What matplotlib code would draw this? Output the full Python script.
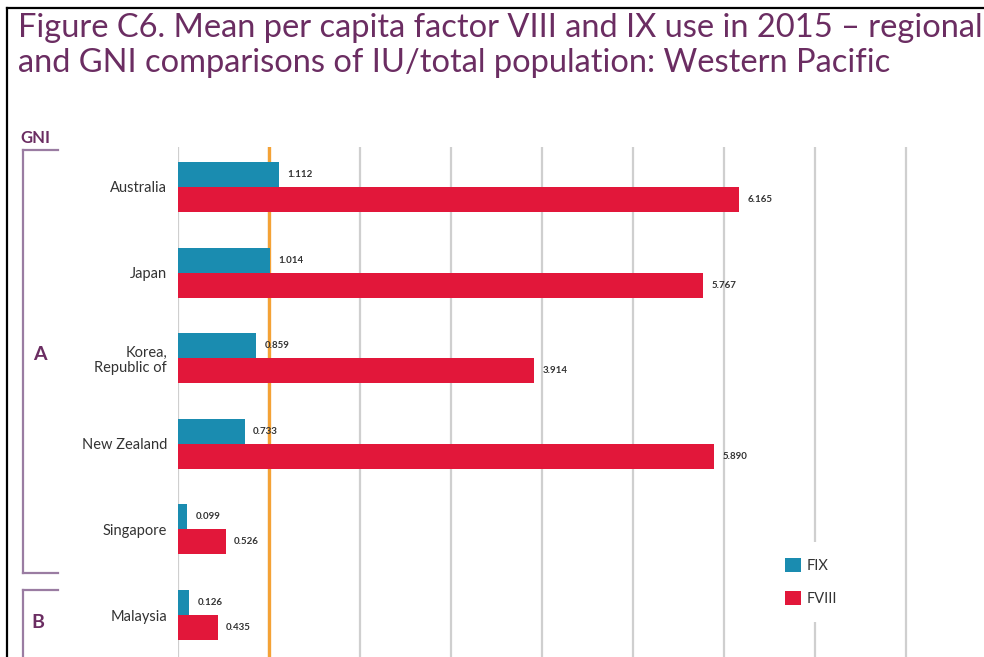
"""
Mean per capita factor VIII and IX use, Western Pacific, horizontal bars
"""
import matplotlib.pyplot as plt
from matplotlib.lines import Line2D
import numpy as np

# data
countries = ["Australia", "Japan", "Korea,\nRepublic of", "New Zealand",
             "Singapore", "Malaysia"]
fix = [1.112, 1.014, 0.859, 0.733, 0.099, 0.126]
fviii = [6.165, 5.767, 3.914, 5.890, 0.526, 0.435]
gni_groups = ["A", "A", "A", "A", "A", "B"]
reference_level = 1.0

# colours
c_fix = "#1a8cb0"
c_fviii = "#e2173a"
c_orange = "#f4a236"
c_grid = "#cfcfcf"
c_purple = "#6b2d62"
c_bracket = "#9a7ca2"
c_text = "#333333"

W, H = 984, 657
plt.rcParams["font.family"] = ["Lato", "DejaVu Sans"]
fig = plt.figure(figsize=(W / 100, H / 100), dpi=100)


def fx(px):
    return px / W


def fy(py):
    return 1 - py / H


# axes: x=0 at 178px, 91px per unit; first row at 187px, 85.6px per row
ax = fig.add_axes([fx(178), 0, 1 - fx(178), fy(147)])
ax.set_xlim(0, (W - 178) / 91)
ax.set_ylim(5.49, -0.467)

y = np.arange(len(countries))
h = 0.292
ax.barh(y - h / 2, fix, height=h, color=c_fix, label="FIX", zorder=3)
ax.barh(y + h / 2, fviii, height=h, color=c_fviii, label="FVIII", zorder=3)

for xi in range(0, 9):
    ax.axvline(xi, color=c_grid, lw=1.6, zorder=1)
ax.axvline(reference_level, color=c_orange, lw=2.4, zorder=2)

for yi, v in zip(y, fix):
    ax.annotate(f"{v:.3f}", (v, yi - h / 2), xytext=(6, 0),
                textcoords="offset points", va="center", ha="left",
                fontsize=7, fontweight="bold", color=c_text, zorder=5)
for yi, v in zip(y, fviii):
    ax.annotate(f"{v:.3f}", (v, yi + h / 2), xytext=(6, 0),
                textcoords="offset points", va="center", ha="left",
                fontsize=7, fontweight="bold", color=c_text, zorder=5)

ax.set_yticks(y)
ax.set_yticklabels(countries, fontsize=10.5, color=c_text, linespacing=1.1)
ax.set_xticks([])
ax.tick_params(axis="y", length=0, pad=8)
for s in ax.spines.values():
    s.set_visible(False)

leg = ax.legend(loc="center", bbox_to_anchor=(fx(811), fy(582)),
                bbox_transform=fig.transFigure, frameon=True, fontsize=10.5,
                handlelength=1.1, handleheight=1.1, handletextpad=0.4,
                labelspacing=1.25, borderpad=1.1)
leg.get_frame().set_facecolor("white")
leg.get_frame().set_edgecolor("none")
leg.get_frame().set_alpha(1)
for t in leg.get_texts():
    t.set_color(c_text)

# title
fig.text(fx(18), fy(37), "Figure C6. Mean per capita factor VIII and IX use in 2015 \u2013 regional",
         fontsize=23.5, color=c_purple, va="baseline", ha="left")
fig.text(fx(18), fy(72), "and GNI comparisons of IU/total population: Western Pacific",
         fontsize=23.5, color=c_purple, va="baseline", ha="left")

# GNI brackets
fig.text(fx(20), fy(143), "GNI", fontsize=12, fontweight="bold",
         color=c_purple, va="baseline", ha="left")
bracket_lines = [
    ([23, 58], [150, 150]), ([23, 23], [150, 573]), ([23, 58], [573, 573]),
    ([23, 58], [590, 590]), ([23, 23], [590, 657]),
]
for xs, ys in bracket_lines:
    fig.add_artist(Line2D([fx(v) for v in xs], [fy(v) for v in ys],
                          color=c_bracket, lw=1.6))
fig.text(fx(40), fy(355), "A", fontsize=14, fontweight="bold",
         color=c_purple, va="center", ha="center")
fig.text(fx(38), fy(622), "B", fontsize=14, fontweight="bold",
         color=c_purple, va="center", ha="center")

# page frame
fig.add_artist(Line2D([fx(7), 1], [fy(8), fy(8)], color="black", lw=1.6))
fig.add_artist(Line2D([fx(7), fx(7)], [fy(8), 0], color="black", lw=1.6))

fig.savefig("out.png", dpi=100)
